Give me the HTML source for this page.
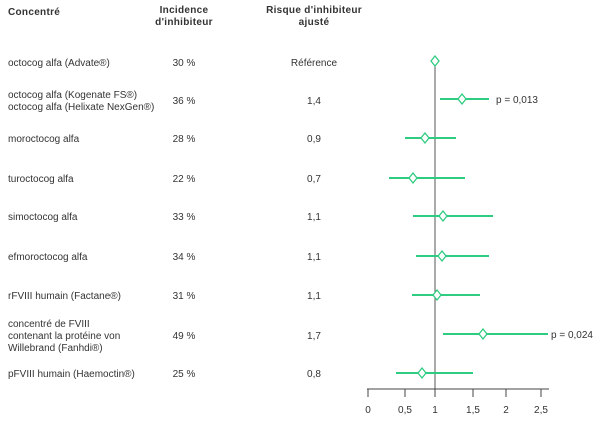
<!DOCTYPE html>
<html><head><meta charset="utf-8"><style>
body{margin:0;background:#fff;}
svg text{font-family:"Liberation Sans",sans-serif;font-size:10px;fill:#333;}
.b{font-weight:bold;letter-spacing:0.3px;}
</style></head><body>
<svg width="605" height="425" xmlns="http://www.w3.org/2000/svg">
<text x="8" y="15" class="b">Concentré</text>
<text x="184" y="13" class="b" text-anchor="middle">Incidence</text>
<text x="184" y="25" class="b" text-anchor="middle">d'inhibiteur</text>
<text x="314" y="13" class="b" text-anchor="middle">Risque d'inhibiteur</text>
<text x="314" y="25" class="b" text-anchor="middle">ajusté</text>

<g>
<text x="8" y="66">octocog alfa (Advate®)</text>
<text x="184" y="66" text-anchor="middle">30 %</text>
<text x="314" y="66" text-anchor="middle">Référence</text>

<text x="8" y="98">octocog alfa (Kogenate FS®)</text>
<text x="8" y="110">octocog alfa (Helixate NexGen®)</text>
<text x="184" y="104" text-anchor="middle">36 %</text>
<text x="314" y="104" text-anchor="middle">1,4</text>

<text x="8" y="142">moroctocog alfa</text>
<text x="184" y="142" text-anchor="middle">28 %</text>
<text x="314" y="142" text-anchor="middle">0,9</text>

<text x="8" y="182">turoctocog alfa</text>
<text x="184" y="182" text-anchor="middle">22 %</text>
<text x="314" y="182" text-anchor="middle">0,7</text>

<text x="8" y="220">simoctocog alfa</text>
<text x="184" y="220" text-anchor="middle">33 %</text>
<text x="314" y="220" text-anchor="middle">1,1</text>

<text x="8" y="260">efmoroctocog alfa</text>
<text x="184" y="260" text-anchor="middle">34 %</text>
<text x="314" y="260" text-anchor="middle">1,1</text>

<text x="8" y="299">rFVIII humain (Factane®)</text>
<text x="184" y="299" text-anchor="middle">31 %</text>
<text x="314" y="299" text-anchor="middle">1,1</text>

<text x="8" y="327">concentré de FVIII</text>
<text x="8" y="339">contenant la protéine von</text>
<text x="8" y="351">Willebrand (Fanhdi®)</text>
<text x="184" y="339" text-anchor="middle">49 %</text>
<text x="314" y="339" text-anchor="middle">1,7</text>

<text x="8" y="377">pFVIII humain (Haemoctin®)</text>
<text x="184" y="377" text-anchor="middle">25 %</text>
<text x="314" y="377" text-anchor="middle">0,8</text>
</g>

<line x1="435" y1="62" x2="435" y2="389" stroke="#555" stroke-width="1"/>
<line x1="367" y1="389" x2="549" y2="389" stroke="#444" stroke-width="1"/>
<g stroke="#444">
<line x1="368" y1="389" x2="368" y2="397"/>
<line x1="405" y1="389" x2="405" y2="397"/>
<line x1="435" y1="389" x2="435" y2="397"/>
<line x1="473" y1="389" x2="473" y2="397"/>
<line x1="506" y1="389" x2="506" y2="397"/>
<line x1="541" y1="389" x2="541" y2="397"/>
</g>
<g text-anchor="middle">
<text x="368" y="413">0</text><text x="405" y="413">0,5</text><text x="435" y="413">1</text>
<text x="473" y="413">1,5</text><text x="506" y="413">2</text><text x="541" y="413">2,5</text>
</g>

<g stroke="#2ecc80" stroke-width="2" fill="none">
<line x1="440" y1="99" x2="489" y2="99"/>
<line x1="405" y1="138" x2="456" y2="138"/>
<line x1="389" y1="178" x2="465" y2="178"/>
<line x1="413" y1="216" x2="493" y2="216"/>
<line x1="416" y1="256" x2="489" y2="256"/>
<line x1="412" y1="295" x2="480" y2="295"/>
<line x1="443" y1="334" x2="548" y2="334"/>
<line x1="396" y1="373" x2="473" y2="373"/>
</g>
<g stroke="#2ecc80" stroke-width="1.3" fill="#fff">
<path d="M435 56 l4 5 l-4 5 l-4 -5z"/>
<path d="M462 94 l4 5 l-4 5 l-4 -5z"/>
<path d="M425 133 l4 5 l-4 5 l-4 -5z"/>
<path d="M413 173 l4 5 l-4 5 l-4 -5z"/>
<path d="M443 211 l4 5 l-4 5 l-4 -5z"/>
<path d="M442 251 l4 5 l-4 5 l-4 -5z"/>
<path d="M437 290 l4 5 l-4 5 l-4 -5z"/>
<path d="M483 329 l4 5 l-4 5 l-4 -5z"/>
<path d="M422 368 l4 5 l-4 5 l-4 -5z"/>
</g>
<text x="496" y="103">p = 0,013</text>
<text x="551" y="338">p = 0,024</text>
</svg>
</body></html>
